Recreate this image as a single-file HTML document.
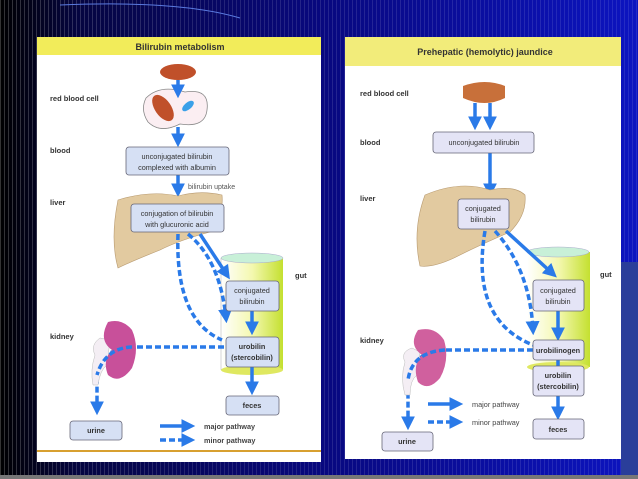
<!DOCTYPE html>
<html><head><style>
html,body{margin:0;padding:0;width:638px;height:479px;overflow:hidden;background:#06067a}
svg{display:block}
text{font-family:"Liberation Sans",sans-serif;}
</style></head><body>
<svg width="638" height="479" viewBox="0 0 638 479" xmlns="http://www.w3.org/2000/svg">
<defs>
<linearGradient id="bg" x1="0" x2="1" y1="0" y2="0">
<stop offset="0" stop-color="#000"/><stop offset="0.12" stop-color="#050540"/><stop offset="0.5" stop-color="#08087e"/><stop offset="1" stop-color="#0c14c0"/>
</linearGradient>
<pattern id="str" width="4" height="10" patternUnits="userSpaceOnUse"><rect width="1" height="10" fill="#ffffff" opacity="0.2"/></pattern>
<linearGradient id="fade" x1="0" x2="1"><stop offset="0" stop-color="#fff"/><stop offset="0.3" stop-color="#fff" stop-opacity="0.6"/><stop offset="1" stop-color="#fff" stop-opacity="0.5"/></linearGradient>
<mask id="m"><rect width="638" height="479" fill="url(#fade)"/></mask>
<linearGradient id="gut" x1="0" x2="1"><stop offset="0" stop-color="#fff"/><stop offset="0.5" stop-color="#f4f8b0"/><stop offset="1" stop-color="#c4e030"/></linearGradient>
<marker id="ah" markerWidth="4" markerHeight="4" refX="2.5" refY="2" orient="auto" markerUnits="strokeWidth"><path d="M0,0 L4,2 L0,4 z" fill="#2a7ae8"/></marker>
</defs>
<rect width="638" height="479" fill="url(#bg)"/>
<rect width="638" height="479" fill="url(#str)" mask="url(#m)"/>
<rect x="621" y="262" width="17" height="217" fill="#2a3e9a"/>
<rect x="0" y="475" width="638" height="4" fill="#777"/>
<path d="M60,5 Q180,0 240,18" stroke="#5a7ae0" fill="none" stroke-width="1"/>

<!-- LEFT PANEL -->
<rect x="37" y="37" width="284" height="425" fill="#fff"/>
<rect x="37" y="37" width="284" height="18" fill="#f2ec5a"/>
<text x="180" y="50" font-size="9" font-weight="bold" text-anchor="middle" fill="#333">Bilirubin metabolism</text>
<line x1="37" y1="451" x2="321" y2="451" stroke="#d8a030" stroke-width="2"/>
<g font-size="7.5" font-weight="bold" fill="#333">
<text x="50" y="101">red blood cell</text><text x="50" y="153">blood</text><text x="50" y="205">liver</text><text x="50" y="339">kidney</text><text x="295" y="278">gut</text>
</g>
<ellipse cx="178" cy="72" rx="18" ry="8" fill="#c0502a"/>
<path d="M146,98 Q160,84 185,92 Q210,88 207,110 Q205,128 180,124 Q160,134 148,122 Q140,110 146,98z" fill="#fbeef2" stroke="#888" stroke-width="0.8"/>
<ellipse cx="163" cy="108" rx="8" ry="15" transform="rotate(-35 163 108)" fill="#c0502a"/>
<ellipse cx="188" cy="106" rx="3.5" ry="7" transform="rotate(50 188 106)" fill="#3aa0e8"/>
<g stroke="#2a7ae8" stroke-width="3.5" fill="none">
<line x1="178" y1="80" x2="178" y2="93" marker-end="url(#ah)"/>
<line x1="178" y1="127" x2="178" y2="142" marker-end="url(#ah)"/>
<line x1="178" y1="175" x2="178" y2="192" marker-end="url(#ah)"/>
</g>
<text x="188" y="189" font-size="7" fill="#555">bilirubin uptake</text>
<rect x="126" y="147" width="103" height="28" rx="3" fill="#d6e0f4" stroke="#667" stroke-width="0.8"/>
<text x="177" y="159" font-size="7.3" text-anchor="middle" fill="#333">unconjugated bilirubin</text>
<text x="177" y="170" font-size="7.3" text-anchor="middle" fill="#333">complexed with albumin</text>
<path d="M118,200 Q150,190 178,196 Q200,190 222,195 Q224,215 210,232 Q180,240 160,250 Q130,262 118,268 Q110,240 118,200z" fill="#e2caa0" stroke="#b89a70" stroke-width="0.6"/>
<rect x="221" y="258" width="62" height="112" fill="url(#gut)"/>
<ellipse cx="252" cy="258" rx="31" ry="5" fill="#c8f0d8" stroke="#aac" stroke-width="0.5"/>
<ellipse cx="252" cy="370" rx="31" ry="5" fill="#dfe860"/>
<line x1="221" y1="258" x2="221" y2="370" stroke="#aaa" stroke-width="0.5"/>
<rect x="131" y="204" width="93" height="28" rx="3" fill="#d6e0f4" stroke="#667" stroke-width="0.8"/>
<text x="177" y="216" font-size="7.3" text-anchor="middle" fill="#333">conjugation of bilirubin</text>
<text x="177" y="227" font-size="7.3" text-anchor="middle" fill="#333">with glucuronic acid</text>
<g stroke="#2a7ae8" stroke-width="3.5" fill="none">
<line x1="200" y1="234" x2="227" y2="275" marker-end="url(#ah)"/>
<line x1="252" y1="311" x2="252" y2="330" marker-end="url(#ah)"/>
<line x1="252" y1="367" x2="252" y2="390" marker-end="url(#ah)"/>
</g>
<g stroke="#2a7ae8" stroke-width="3.5" fill="none" stroke-dasharray="6,3">
<path d="M178,234 Q175,320 222,340"/>
<path d="M188,234 Q220,260 226,318" marker-end="url(#ah)"/>
<path d="M224,347 L130,347 Q100,350 97,375 L97,410" marker-end="url(#ah)"/>
<line x1="160" y1="440" x2="190" y2="440" marker-end="url(#ah)"/>
</g>
<line x1="160" y1="426" x2="190" y2="426" stroke="#2a7ae8" stroke-width="3.5" marker-end="url(#ah)"/>
<g font-size="7.3" font-weight="bold" fill="#444"><text x="204" y="429">major pathway</text><text x="204" y="443">minor pathway</text></g>
<path d="M95,355 Q90,345 100,338 L110,340 L107,365 Q100,370 98,385 L93,385 Q90,370 95,355z" fill="#f4eef4" stroke="#bbb" stroke-width="0.5"/>
<path d="M108,322 Q122,318 132,330 Q140,348 132,368 Q120,385 108,375 Q102,360 112,350 Q98,340 108,322z" fill="#c8509a"/>
<g stroke="#2a7ae8" stroke-width="3.5" fill="none" stroke-dasharray="6,3"><path d="M132,347 Q105,348 97,375"/></g>
<g fill="#d6e0f4" stroke="#667" stroke-width="0.8">
<rect x="226" y="281" width="53" height="30" rx="3"/><rect x="226" y="337" width="53" height="30" rx="3"/><rect x="226" y="396" width="53" height="19" rx="3"/><rect x="70" y="421" width="52" height="19" rx="3"/>
</g>
<g font-size="7.3" text-anchor="middle" fill="#333">
<text x="252" y="293">conjugated</text><text x="252" y="304">bilirubin</text>
<text x="252" y="349" font-weight="bold">urobilin</text><text x="252" y="360" font-weight="bold">(stercobilin)</text>
<text x="252" y="408" font-weight="bold">feces</text><text x="96" y="433" font-weight="bold">urine</text>
</g>

<!-- RIGHT PANEL -->
<rect x="345" y="37" width="276" height="422" fill="#fff"/>
<rect x="345" y="37" width="276" height="29" fill="#f2ec7a"/>
<text x="485" y="55" font-size="9" font-weight="bold" text-anchor="middle" fill="#333">Prehepatic (hemolytic) jaundice</text>
<g font-size="7.5" font-weight="bold" fill="#333">
<text x="360" y="96">red blood cell</text><text x="360" y="145">blood</text><text x="360" y="201">liver</text><text x="360" y="343">kidney</text><text x="600" y="277">gut</text>
</g>
<path d="M463,86 Q485,78 505,86 L505,98 Q485,108 463,98z" fill="#c8703a"/>
<g stroke="#2a7ae8" stroke-width="3.5" fill="none">
<line x1="475" y1="103" x2="475" y2="125" marker-end="url(#ah)"/>
<line x1="490" y1="103" x2="490" y2="125" marker-end="url(#ah)"/>
<line x1="490" y1="153" x2="490" y2="192" marker-end="url(#ah)"/>
</g>
<rect x="433" y="132" width="101" height="21" rx="3" fill="#e4e4f6" stroke="#667" stroke-width="0.8"/>
<text x="484" y="145" font-size="7.3" text-anchor="middle" fill="#333">unconjugated bilirubin</text>
<path d="M425,195 Q460,180 490,190 Q515,185 525,195 Q527,215 510,232 Q480,245 460,255 Q435,268 420,266 Q412,230 425,195z" fill="#e2caa0" stroke="#b89a70" stroke-width="0.6"/>
<rect x="527" y="252" width="63" height="115" fill="url(#gut)"/>
<ellipse cx="558" cy="252" rx="31" ry="5" fill="#c8f0d8" stroke="#aac" stroke-width="0.5"/>
<ellipse cx="558" cy="367" rx="31" ry="5" fill="#dfe860"/>
<rect x="458" y="199" width="51" height="30" rx="3" fill="#e4e4f6" stroke="#667" stroke-width="0.8"/>
<text x="483" y="211" font-size="7.3" text-anchor="middle" fill="#333">conjugated</text><text x="483" y="222" font-size="7.3" text-anchor="middle" fill="#333">bilirubin</text>
<g stroke="#2a7ae8" stroke-width="3.5" fill="none">
<line x1="506" y1="231" x2="553" y2="274" marker-end="url(#ah)"/>
<line x1="558" y1="311" x2="558" y2="336" marker-end="url(#ah)"/>
<line x1="558" y1="360" x2="558" y2="366"/>
<line x1="558" y1="396" x2="558" y2="415" marker-end="url(#ah)"/>
<line x1="428" y1="404" x2="458" y2="404" marker-end="url(#ah)"/>
</g>
<g stroke="#2a7ae8" stroke-width="3.5" fill="none" stroke-dasharray="6,3">
<path d="M485,231 Q470,320 533,345"/>
<path d="M495,231 Q530,270 533,330" marker-end="url(#ah)"/>
<path d="M533,350 L445,350 Q412,352 408,380 L408,425" marker-end="url(#ah)"/>
<line x1="428" y1="422" x2="458" y2="422" marker-end="url(#ah)"/>
</g>
<g font-size="7.3" fill="#444"><text x="472" y="407">major pathway</text><text x="472" y="425">minor pathway</text></g>
<path d="M405,362 Q400,352 412,348 L420,352 L417,375 Q410,380 410,395 L405,395 Q400,378 405,362z" fill="#f4eef4" stroke="#bbb" stroke-width="0.5"/>
<path d="M418,330 Q435,326 444,340 Q450,360 440,378 Q428,392 418,382 Q412,365 422,355 Q408,345 418,330z" fill="#d0609e"/>
<g stroke="#2a7ae8" stroke-width="3.5" fill="none" stroke-dasharray="6,3"><path d="M445,350 Q412,352 408,380"/></g>
<g fill="#e4e4f6" stroke="#667" stroke-width="0.8">
<rect x="533" y="280" width="51" height="31" rx="3"/><rect x="533" y="340" width="51" height="20" rx="3"/><rect x="533" y="366" width="51" height="30" rx="3"/><rect x="533" y="419" width="51" height="20" rx="3"/><rect x="382" y="432" width="51" height="19" rx="3"/>
</g>
<g font-size="7.3" text-anchor="middle" fill="#333">
<text x="558" y="293">conjugated</text><text x="558" y="304">bilirubin</text>
<text x="558" y="353" font-weight="bold">urobilinogen</text>
<text x="558" y="378" font-weight="bold">urobilin</text><text x="558" y="389" font-weight="bold">(stercobilin)</text>
<text x="558" y="432" font-weight="bold">feces</text><text x="407" y="444" font-weight="bold">urine</text>
</g>
</svg>
</body></html>
